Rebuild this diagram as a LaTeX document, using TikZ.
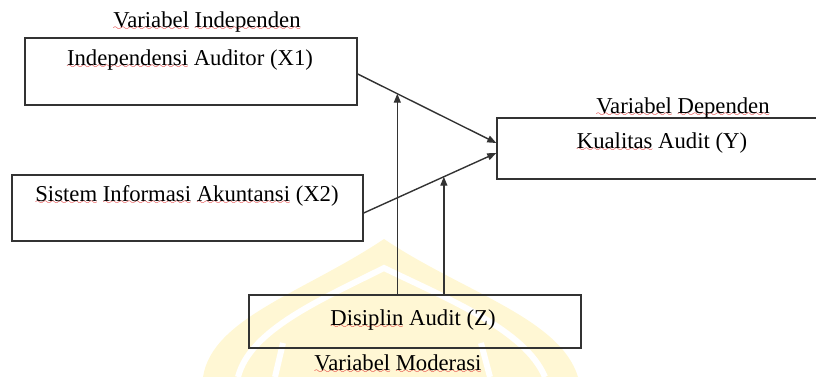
\documentclass[tikz,border=0pt]{standalone}
\usepackage{fontspec}
\setmainfont{Liberation Serif}
\usetikzlibrary{arrows.meta,calc}
\definecolor{lineg}{HTML}{333333}
\definecolor{wmark}{HTML}{FFF7D4}
\definecolor{sqred}{HTML}{E02020}
\font\wavefont=lasy6 at 9pt
\newcommand\sq[1]{\setbox0\hbox{#1}\rlap{\color{sqred}\lower3.4pt\hbox to \wd0{\xleaders\hbox{\wavefont\char58}\hfil}}\box0\relax}
\tikzset{
  box/.style={draw=lineg, line width=1.4pt, rectangle, inner sep=0pt},
  txt/.style={inner sep=0pt, font=\fontsize{22.7}{26}\selectfont},
  conn/.style={draw=lineg, line width=1.4pt, -{Triangle[length=9pt,width=7pt]}},
  plain/.style={draw=lineg, line width=1.4pt}
}
\begin{document}
\begin{tikzpicture}[x=1pt,y=-1pt]
\useasboundingbox (0,0) rectangle (816,377);
% watermark
\fill[wmark] (203,377) .. controls (212,318) and (305,292) .. (384,239)
  .. controls (463,292) and (560,318) .. (578,377) -- cycle;
\draw[white, line width=6pt] (238,377) .. controls (250,330) and (320,300) .. (384,268)
  .. controls (450,300) and (525,330) .. (545,377);
\draw[white, line width=6pt] (283,343) -- (275,377);
\draw[white, line width=6pt] (481,343) -- (490,377);
% boxes
\node[box, minimum width=332pt, minimum height=67pt] (bx1) at (191,71.5) {};
\node[box, minimum width=351pt, minimum height=66pt] (bx2) at (187.5,208) {};
\node[box, minimum width=340pt, minimum height=61pt] (by) at (667,148.5) {};
\node[box, minimum width=332pt, minimum height=53pt] (bz) at (415,321.5) {};
% texts
\node[txt] (l1) at (207,22) {\sq{Variabel} \sq{Independen}};
\node[txt] (t1) at (190,60) {\sq{Independensi} Auditor (X1)};
\node[txt] (t2) at (187,196) {\sq{Sistem} \sq{Informasi} \sq{Akuntansi} (X2)};
\node[txt] (ly) at (683,108) {\sq{Variabel} \sq{Dependen}};
\node[txt] (ty) at (662,143) {\sq{Kualitas} Audit (Y)};
\node[txt] (tz) at (413,320) {\sq{Disiplin} Audit (Z)};
\node[txt] (lz) at (398,364) {\sq{Variabel} \sq{Moderasi}};
% connectors
\coordinate (s1) at ([yshift=-2.5pt]bx1.east);
\coordinate (s2) at ([yshift=-5pt]bx2.east);
\coordinate (e1) at ([yshift=5.5pt]by.west);
\coordinate (e2) at ([yshift=-4.5pt]by.west);
\draw[conn] (s1) -- (e1);
\draw[conn] (s2) -- (e2);
\coordinate (m1) at ($(s1)!0.2857!(e1)$);
\coordinate (m2) at ($(s2)!0.6045!(e2)$);
\draw[conn] (bz.north -| m1) -- (m1);
\draw[conn] (bz.north -| m2) -- (m2);
\end{tikzpicture}
\end{document}
